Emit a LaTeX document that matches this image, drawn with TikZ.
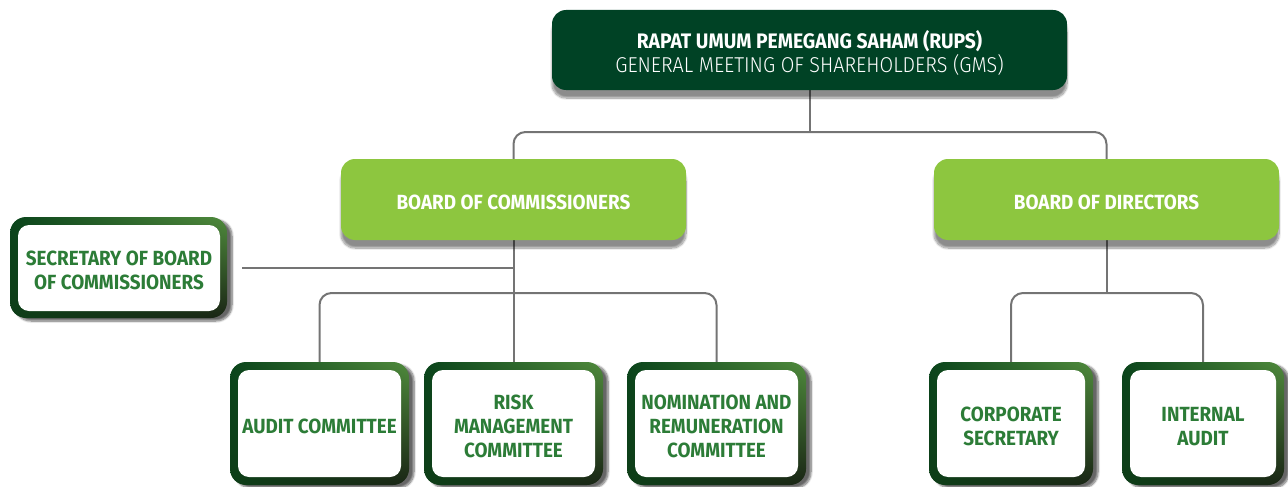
\documentclass[tikz,border=0pt]{standalone}
\usepackage{fontspec}
\setmainfont{Fira Sans}[FakeStretch=0.92]
\newfontfamily\lightfont{Fira Sans Light}[FakeStretch=0.92]
\usetikzlibrary{shadings,shadows.blur,backgrounds}
\definecolor{rupsgreen}{HTML}{004225}
\definecolor{boardgreen}{HTML}{8DC63F}
\definecolor{linegray}{HTML}{747474}
\definecolor{txtgreen}{HTML}{2C7C37}
\definecolor{frUL}{HTML}{0A441B}
\definecolor{frUR}{HTML}{4F8A3C}
\definecolor{frLL}{HTML}{0E3E18}
\definecolor{frLR}{HTML}{1A2515}
\newcommand\myTopStrut{\rule{0pt}{20pt}}
\begin{document}
\begin{tikzpicture}[x=1pt,y=-1pt,
  conn/.style={draw=linegray, line width=2pt, rounded corners=12pt},
  rupsbox/.style={rounded corners=14pt, fill=rupsgreen, text=white,
    minimum width=515pt, minimum height=80pt, align=center,
    font=\fontsize{21}{24}\selectfont,
    blur shadow={shadow xshift=0pt, shadow yshift=-8pt, shadow opacity=45, shadow blur steps=10}},
  boardbox/.style={rounded corners=14pt, fill=boardgreen, text=white,
    minimum width=345pt, minimum height=81pt, align=center,
    font=\fontsize{20.5}{24}\selectfont\bfseries,
    blur shadow={shadow xshift=0pt, shadow yshift=-8pt, shadow opacity=45, shadow blur steps=10}},
  framebox/.style={rounded corners=16pt, upper left=frUL, upper right=frUR,
    lower left=frLL, lower right=frLR, minimum height=123pt,
    blur shadow={shadow xshift=5pt, shadow yshift=-3pt, shadow opacity=60, shadow blur steps=8}},
  innerbox/.style={fill=white, rounded corners=11pt, text=txtgreen,
    font=\fontsize{20.5}{24}\selectfont\bfseries, align=center, inner sep=0pt,
    minimum height=107pt}
]
\useasboundingbox (0,0) rectangle (1288,487);

% top
\node[rupsbox] (rups) at (809.5,50) {\rule{0pt}{24pt}{\bfseries RAPAT UMUM PEMEGANG SAHAM (RUPS)}\\
  {\fontsize{21.5}{24}\selectfont\lightfont GENERAL MEETING OF SHAREHOLDERS (GMS)}};

% boards
\node[boardbox] (boc) at (513.5,199.5) {\myTopStrut BOARD OF COMMISSIONERS};
\node[boardbox] (bod) at (1106.5,199.5) {\myTopStrut BOARD OF DIRECTORS};

% secretary
\node[framebox, minimum width=217pt, minimum height=101pt] (secF) at (118.5,267.5) {};
\node[innerbox, minimum width=202pt, minimum height=86pt] (sec) at (119,268) {\myTopStrut SECRETARY OF BOARD\\OF COMMISSIONERS};

% committees
\node[framebox, minimum width=179pt] (auditF) at (319.5,423.5) {};
\node[innerbox, minimum width=163pt] (audit) at (319.5,423.5) {\myTopStrut AUDIT COMMITTEE};
\node[framebox, minimum width=179pt] (riskF) at (513.5,423.5) {};
\node[innerbox, minimum width=163pt] (risk) at (513.5,423.5) {\myTopStrut RISK\\MANAGEMENT\\COMMITTEE};
\node[framebox, minimum width=179pt] (nomF) at (716.5,423.5) {};
\node[innerbox, minimum width=163pt] (nom) at (716.5,423.5) {\myTopStrut NOMINATION AND\\REMUNERATION\\COMMITTEE};

% directors units
\node[framebox, minimum width=164pt] (corpF) at (1011,423.5) {};
\node[innerbox, minimum width=148pt] (corp) at (1011,423.5) {\myTopStrut CORPORATE\\SECRETARY};
\node[framebox, minimum width=162pt] (intF) at (1203,423.5) {};
\node[innerbox, minimum width=146pt] (int) at (1203,423.5) {\myTopStrut INTERNAL\\AUDIT};

\begin{scope}[on background layer]
  \coordinate (topbus) at (809.5,132);
  \coordinate (cbus) at (513.5,293);
  \coordinate (dbus) at (1106.5,293);
  \draw[conn] (rups.south) -- (topbus);
  \draw[conn] (boc.north) |- (topbus) -| (bod.north);
  \draw[conn] (boc.south) -- (risk.north);
  \draw[conn] ([xshift=15pt]secF.east) -- (secF.east -| boc.south);
  \draw[conn] (auditF.north) |- (cbus) -| (nomF.north);
  \draw[conn] (bod.south) -- (dbus);
  \draw[conn] (corpF.north) |- (dbus) -| (intF.north);
\end{scope}
\end{tikzpicture}
\end{document}
